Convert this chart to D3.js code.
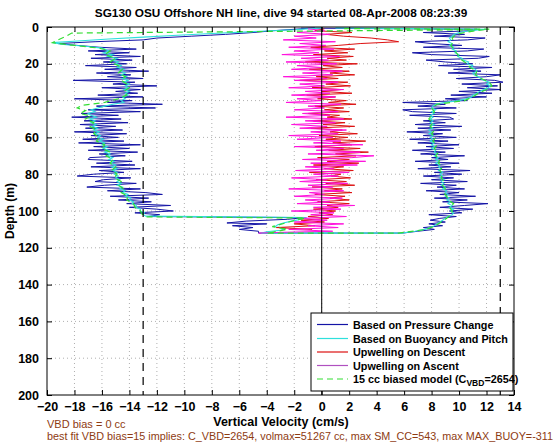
<!DOCTYPE html>
<html><head><meta charset="utf-8">
<script src="https://cdn.jsdelivr.net/npm/d3@7"></script>
<style>body{margin:0;background:#fff}svg{display:block}text{font-family:"Liberation Sans",Arial,Helvetica,sans-serif}</style>
</head><body><svg id="c" width="560" height="442"></svg>
<script>
// ---- data: [depth (m), vertical velocity (cm/s)] ----
const pressureChange = [[0.4,-0.5],[1,-1.5],[2,-3.5],[3,-5],[4,-7],[5,-9.5],[6,-12],[7,-13],[8,-16.5],[9,-19.2],[10,-17.8],[11,-16.2],[12,-13.5],[13,-17],[14,-14],[15,-16.5],[16,-13.2],[17,-16.8],[18,-13.8],[19,-15.9],[20,-14.2],[21,-17.2],[22,-13.5],[23,-15.8],[24,-12.6],[25,-16.4],[26,-13.9],[27,-15.6],[28,-13.0],[29,-18.1],[30,-13.6],[31,-15.2],[32,-12.0],[33,-16.0],[34,-13.2],[35,-15.0],[36,-13.4],[37,-16.3],[38,-13.0],[39,-18.0],[40,-13.8],[41,-15.6],[42,-11.6],[43,-16.4],[44,-12.1],[45,-17.0],[46,-13.2],[47,-17.5],[48,-14.8],[49,-18.2],[50,-14.6],[51,-17.3],[52,-14.1],[53,-17.6],[54,-15.0],[55,-17.2],[56,-14.5],[57,-18.0],[58,-14.2],[59,-16.8],[60,-14.8],[61,-17.4],[62,-14.4],[63,-17.7],[64,-13.2],[65,-16.6],[66,-14.0],[67,-17.0],[68,-13.4],[69,-16.2],[70,-14.3],[71,-16.9],[72,-17.0],[73,-13.8],[74,-16.4],[75,-13.6],[76,-16.8],[77,-13.2],[78,-16.2],[79,-14.4],[80,-16.6],[81,-17.8],[82,-13.9],[83,-15.9],[84,-16.5],[85,-13.5],[86,-15.8],[87,-17.1],[88,-13.2],[89,-15.6],[90,-12.8],[91,-11.6],[92,-15.4],[93,-12.6],[94,-14.8],[95,-12.4],[96,-14.2],[97,-11.0],[98,-14.0],[99,-12.0],[100,-10.8],[101,-13.6],[102,-11.8],[103,-12.6],[103.6,-1.2],[104.5,-2.5],[105.5,-5.5],[106.5,-6.9],[107,-4.0],[108,-6.5],[109,-5.0],[110,-6.0],[111,-4.6],[112,-4.6],
[112,5.9],[111,7.0],[110,8.2],[109,7.4],[108,8.8],[107,7.8],[106,9.0],[105,7.9],[104,8.6],[103,9.8],[102,7.8],[101,10.2],[100,9.3],[99,11.0],[98,8.6],[97,10.4],[96,12.1],[95,8.8],[94,10.6],[93,8.2],[92,11.2],[91,8.6],[90,10.0],[89,7.6],[88,10.4],[87,8.4],[86,9.8],[85,7.2],[84,10.6],[83,8.0],[82,9.6],[81,7.4],[80,10.2],[79,8.2],[78,10.8],[77,7.0],[76,9.4],[75,7.8],[74,10.0],[73,6.8],[72,9.2],[71,8.0],[70,10.4],[69,7.2],[68,9.0],[67,6.6],[66,9.6],[65,7.6],[64,10.0],[63,7.0],[62,9.2],[61,6.4],[60,9.8],[59,7.4],[58,8.8],[57,6.2],[56,9.4],[55,7.0],[54,10.2],[53,6.8],[52,9.0],[51,7.4],[50,9.6],[49,9.3],[48,6.4],[47,9.8],[46,6.6],[45,5.9],[44,9.8],[43,7.0],[42,9.0],[41,5.9],[40,10.6],[39,9.0],[38,12.0],[37,9.4],[36,12.4],[35,10.0],[34,13.0],[33,10.6],[32,12.8],[31,10.2],[30,13.2],[29,12.6],[28,9.8],[27,12.0],[26,13.0],[25,9.2],[24,11.6],[23,9.6],[22,12.4],[21,8.5],[20,11.0],[19,9.0],[18,7.6],[17,11.4],[16,12.2],[15,8.0],[14,6.6],[13,10.6],[12,11.8],[11,7.4],[10,10.2],[9,8.0],[8,6.8],[7,10.6],[6,11.9],[5,8.2],[4,10.4],[3,7.4],[2,11.0],[1.2,11.3],[0.6,-1.5]];

const buoyancyPitch = [[0.5,0],[1.5,-2],[2.5,-5],[3.5,-8],[4.5,-10.5],[5.5,-13],[6.5,-15.5],[7.5,-17.5],[8.5,-19.6],[9.5,-18.8],[10.5,-17.2],[11.5,-16],[12,-15.8],[13,-15.5],[14,-15.9],[15,-15.2],[16,-15.6],[17,-14.9],[18,-15.3],[19,-14.8],[20,-15.0],[21,-14.6],[22,-14.9],[23,-14.4],[24,-14.7],[25,-14.3],[26,-14.6],[27,-14.2],[28,-14.5],[29,-14.1],[30,-14.4],[31,-14.0],[32,-14.3],[33,-14.1],[34,-14.4],[35,-14.0],[36,-14.3],[37,-14.1],[38,-14.5],[39,-14.3],[40,-14.6],[41,-14.4],[42,-15.2],[43,-15.8],[44,-16.3],[45,-16.8],[46,-16.5],[47,-17.0],[48,-16.8],[49,-16.4],[50,-16.9],[51,-16.5],[52,-16.8],[53,-16.4],[54,-16.7],[55,-16.3],[56,-16.6],[57,-16.2],[58,-16.5],[59,-16.1],[60,-16.3],[61,-15.9],[62,-16.2],[63,-15.8],[64,-16.0],[65,-15.6],[66,-15.9],[67,-15.5],[68,-15.8],[69,-15.4],[70,-15.6],[71,-15.2],[72,-15.5],[73,-15.1],[74,-15.4],[75,-15.0],[76,-15.3],[77,-14.9],[78,-15.2],[79,-14.9],[80,-15.1],[81,-14.8],[82,-15.0],[83,-14.7],[84,-14.9],[85,-14.6],[86,-14.9],[87,-14.5],[88,-14.7],[89,-14.3],[90,-14.5],[91,-14.1],[92,-14.3],[93,-13.9],[94,-14.0],[95,-13.7],[96,-13.8],[97,-13.5],[98,-13.5],[99,-13.2],[100,-13.2],[101,-12.9],[102,-13.0],[102.8,-12.8],[103.5,-1.1],[104.5,-1.5],[105.5,-2.2],[106.5,-2.8],[107.5,-3.2],[108.5,-3.4],[109.5,-2.6],[110.5,-3.0],[111.3,-4.0],[112,-4.4],
[112,5.8],[111,6.8],[110,7.5],[109,7.9],[108,8.2],[107,8.4],[106,8.6],[105,8.8],[104,9.0],[103,9.2],[102,9.5],[101,9.6],[100,9.4],[99,9.6],[98,9.3],[97,9.5],[96,9.2],[95,9.4],[94,9.1],[93,9.3],[92,9.0],[91,9.2],[90,9.0],[89,9.1],[88,8.8],[87,9.0],[86,8.7],[85,8.9],[84,8.7],[83,8.9],[82,8.6],[81,8.8],[80,8.6],[79,8.8],[78,8.5],[77,8.7],[76,8.5],[75,8.6],[74,8.3],[73,8.5],[72,8.3],[71,8.5],[70,8.2],[69,8.4],[68,8.2],[67,8.3],[66,8.0],[65,8.2],[64,8.0],[63,8.2],[62,7.9],[61,8.1],[60,7.9],[59,8.1],[58,7.8],[57,8.0],[56,7.8],[55,8.1],[54,7.9],[53,8.2],[52,7.9],[51,8.1],[50,7.9],[49,8.1],[48,7.9],[47,8.2],[46,8.0],[45,8.3],[44,8.0],[43,8.1],[42,8.3],[41,8.9],[40,10.0],[39,10.5],[38,10.9],[37,11.0],[36,11.3],[35,11.5],[34,11.8],[33,12.1],[32,12.3],[31,12.0],[30,12.2],[29,11.8],[28,11.6],[27,11.4],[26,11.1],[25,11.0],[24,11.3],[23,11.2],[22,10.9],[21,11.0],[20,10.6],[19,10.7],[18,10.3],[17,10.2],[16,9.9],[15,10.0],[14,9.7],[13,9.8],[12,9.5],[11,9.6],[10,9.3],[9,9.5],[8,9.2],[7,9.4],[6,9.3],[5,9.5],[4,9.6],[3,10.0],[2,10.8],[1.2,12.0],[0.5,1]];

const upwellingDescent = [[1,0.2],[2,-0.5],[3,2.2],[4,0.3],[5,1.6],[6,3.6],[7,4.8],[8,5.6],[9,2.8],[10,1.2],[11,-0.8],[12,2.4],[13,0.2],[14,1.9],[15,-0.6],[16,2.3],[17,0.4],[18,1.8],[19,-1.2],[20,2.6],[21,0.1],[22,1.5],[23,-0.9],[24,2.0],[25,0.6],[26,2.4],[27,-0.4],[28,1.2],[29,-1.6],[30,1.9],[31,0.3],[32,2.1],[33,-0.7],[34,1.4],[35,0.0],[36,2.2],[37,-1.1],[38,1.0],[39,-0.3],[40,1.8],[41,0.5],[42,2.5],[43,-0.5],[44,1.6],[45,0.2],[46,2.0],[47,-1.0],[48,1.3],[49,0.4],[50,2.2],[51,-0.6],[52,1.7],[53,0.1],[54,2.4],[55,-0.8],[56,1.5],[57,0.6],[58,2.6],[59,-0.2],[60,1.9],[61,0.3],[62,3.2],[63,0.8],[64,2.2],[65,-0.5],[66,2.8],[67,0.5],[68,3.4],[69,1.0],[70,2.5],[71,-0.3],[72,2.0],[73,0.4],[74,2.7],[75,-0.6],[76,1.6],[77,0.2],[78,2.3],[79,-0.9],[80,1.4],[81,0.7],[82,2.1],[83,-0.4],[84,1.8],[85,0.3],[86,2.4],[87,-0.7],[88,1.5],[89,0.2],[90,2.2],[91,-0.5],[92,1.7],[93,0.6],[94,2.0],[95,-0.3],[96,2.0],[97,0.4],[98,1.2],[99,-0.6],[100,1.0],[101,-0.2],[102,0.8],[103,-1.0],[104,0.5],[105,-1.5],[106,0.2],[107,-2.0],[108,-0.5],[109,-3.3],[110,-0.7]];

const upwellingAscent = [[112,-4.6],[111.5,-2.5],[111,0.8],[110,-2.4],[109,1.2],[108,-1.0],[107,1.6],[106,-2.0],[105,0.4],[104,-1.5],[103,1.8],[102,-0.8],[101,0.9],[100,-2.2],[99,1.4],[98,-0.6],[97,2.4],[96,-1.8],[95,0.6],[94,-1.2],[93,1.5],[92,-2.0],[91,0.2],[90,-0.9],[89,1.6],[88,-2.4],[87,0.8],[86,-1.0],[85,1.9],[84,-1.6],[83,0.4],[82,-2.2],[81,1.2],[80,-0.6],[79,2.0],[78,-1.9],[77,0.9],[76,-1.2],[75,2.6],[74,-0.8],[73,3.2],[72,-1.4],[71,2.2],[70,3.8],[69,-1.0],[68,2.8],[67,-0.4],[66,1.6],[65,-2.0],[64,3.0],[63,-0.6],[62,1.4],[61,-1.8],[60,0.8],[59,-2.4],[58,1.2],[57,-0.8],[56,1.8],[55,-1.6],[54,0.4],[53,-2.2],[52,1.0],[51,-1.2],[50,1.6],[49,-2.6],[48,0.6],[47,-1.4],[46,1.2],[45,-2.0],[44,0.2],[43,-1.0],[42,1.4],[41,-2.6],[40,0.0],[39,-1.8],[38,1.0],[37,-2.2],[36,0.6],[35,-1.2],[34,1.6],[33,-2.4],[32,0.2],[31,-1.6],[30,1.2],[29,-2.0],[28,0.4],[27,-2.8],[26,0.8],[25,-1.4],[24,1.5],[23,-2.2],[22,0.0],[21,-1.8],[20,1.1],[19,-2.6],[18,0.5],[17,-1.5],[16,1.3],[15,-2.9],[14,-0.2],[13,-2.0],[12,0.9],[11,-2.4],[10,0.3],[9,-1.6],[8,1.0],[7,-2.8],[6,-0.4],[5,-2.0],[4,0.6],[3,-1.8],[2,0.2],[1,-1.0]];

const biasedModel = [[1.5,11],[3.3,-18.2],[5,-18.6],[7,-19.2],[8.5,-19.6],[10,-18.0],[11.5,-16.2],[13,-15.4],[15,-15.8],[17,-15.0],[19,-15.4],[21,-14.8],[23,-14.5],[25,-14.8],[27,-14.3],[29,-14.6],[31,-14.2],[33,-14.0],[35,-14.4],[37,-14.2],[39,-14.8],[41,-15.8],[42.5,-17.4],[44,-17.8],[45.5,-17.2],[47,-17.6],[48.5,-16.8],[50,-17.2],[52,-16.6],[54,-16.9],[56,-16.4],[58,-16.6],[60,-16.2],[62,-16.4],[64,-15.8],[66,-16.0],[68,-15.4],[70,-15.7],[72,-15.2],[74,-15.4],[76,-15.0],[78,-15.3],[80,-14.9],[82,-15.1],[84,-14.6],[86,-14.8],[88,-14.4],[90,-14.6],[92,-14.1],[94,-14.2],[96,-13.7],[98,-13.6],[100,-13.2],[101.5,-13.1],[103.2,-12.8],[103.8,-1.2],[106,-2.4],[108.5,-3.6],[110,-2.5],[112,-4.0],
[112,5.6],[110,7.6],[108,8.3],[106,8.7],[104,9.1],[102,9.4],[100,9.5],[98,9.3],[96,9.6],[94,9.2],[92,9.1],[90,8.9],[88,9.0],[86,8.8],[84,8.9],[82,8.7],[80,8.8],[78,8.6],[76,8.8],[74,8.5],[72,8.6],[70,8.3],[68,8.5],[66,8.2],[64,8.4],[62,8.1],[60,8.3],[58,8.0],[56,8.2],[54,7.9],[52,8.1],[50,7.8],[48,8.0],[46,8.2],[44,8.0],[42,8.4],[41,9.4],[40,10.4],[38,11.0],[36,11.4],[34,12.0],[32,12.4],[30,12.2],[28,11.6],[26,11.2],[24,11.3],[22,10.8],[20,10.6],[18,10.2],[16,10.0],[14,9.8],[12,9.6],[10,9.4],[8,9.6],[6,9.5],[4,9.8],[3,10.4],[2,11.2],[1.2,12.2],[0.9,1.5]];

const xTicks = [-20,-18,-16,-14,-12,-10,-8,-6,-4,-2,0,2,4,6,8,10,12,14];
const yTicks = [0,20,40,60,80,100,120,140,160,180,200];
const limitLines = [-13, 13];
const legendLabels = ["Based on Pressure Change","Based on Buoyancy and Pitch","Upwelling on Descent","Upwelling on Ascent","15 cc biased model (C"];
const titleText = "SG130 OSU Offshore NH line, dive 94 started 08-Apr-2008 08:23:39";
const note1 = "VBD bias = 0 cc";
const note2 = "best fit VBD bias=15 implies: C_VBD=2654, volmax=51267 cc, max SM_CC=543, max MAX_BUOY=-311";

// ---- drawing ----
const L=47,R=514,T=27,B=395;
const svg = d3.select("#c");
const x = d3.scaleLinear().domain([-20,14]).range([L,R]);
const y = d3.scaleLinear().domain([0,200]).range([T,B]);

svg.append("defs").append("clipPath").attr("id","clip").append("rect").attr("x",L).attr("y",T).attr("width",R-L).attr("height",B-T);

// grid
const grid = svg.append("g").attr("stroke","#9a9a9a").attr("stroke-width",0.8).attr("stroke-dasharray","1,3");
grid.selectAll(".gx").data(xTicks.slice(1,-1)).join("line").attr("x1",d=>x(d)).attr("x2",d=>x(d)).attr("y1",T).attr("y2",B);
grid.selectAll(".gy").data(yTicks.slice(1,-1)).join("line").attr("y1",d=>y(d)).attr("y2",d=>y(d)).attr("x1",L).attr("x2",R);

const plot = svg.append("g").attr("clip-path","url(#clip)");
const line = d3.line().x(d=>x(d[1])).y(d=>y(d[0]));
const colors = {p:"#1414a6", c:"#2ee0dc", r:"#dd1111", m:"#ff11dd", g:"#33dd33"};

plot.append("path").datum(pressureChange).attr("d",line).attr("fill","none").attr("stroke",colors.p).attr("stroke-width",1);
plot.append("path").datum(buoyancyPitch).attr("d",line).attr("fill","none").attr("stroke",colors.c).attr("stroke-width",1.1);
plot.append("path").datum(upwellingDescent).attr("d",line).attr("fill","none").attr("stroke",colors.r).attr("stroke-width",1);
plot.append("path").datum(upwellingAscent).attr("d",line).attr("fill","none").attr("stroke",colors.m).attr("stroke-width",1);
plot.append("path").datum(biasedModel).attr("d",line).attr("fill","none").attr("stroke",colors.g).attr("stroke-width",1.2).attr("stroke-dasharray","6,4");

// reference lines
plot.append("line").attr("x1",x(0)).attr("x2",x(0)).attr("y1",T).attr("y2",B).attr("stroke","#000").attr("stroke-width",1);
plot.selectAll(".lim").data(limitLines).join("line").attr("x1",d=>x(d)).attr("x2",d=>x(d)).attr("y1",T).attr("y2",B)
  .attr("stroke","#000").attr("stroke-width",1.2).attr("stroke-dasharray","8,6");

// axes (MATLAB style ticks inside)
const fmt = d3.format("");
const axB = svg.append("g").attr("transform",`translate(0,${B})`).call(d3.axisBottom(x).tickValues(xTicks).tickSizeInner(-5).tickSizeOuter(0).tickPadding(8).tickFormat(fmt));
const axT = svg.append("g").attr("transform",`translate(0,${T})`).call(d3.axisTop(x).tickValues(xTicks).tickSizeInner(-5).tickSizeOuter(0).tickFormat(""));
const axL = svg.append("g").attr("transform",`translate(${L},0)`).call(d3.axisLeft(y).tickValues(yTicks).tickSizeInner(-5).tickSizeOuter(0).tickPadding(8).tickFormat(fmt));
const axR = svg.append("g").attr("transform",`translate(${R},0)`).call(d3.axisRight(y).tickValues(yTicks).tickSizeInner(-5).tickSizeOuter(0).tickFormat(""));
[axB,axT,axL,axR].forEach(a=>{a.select(".domain").remove();a.selectAll("line").attr("stroke","#000");});
[axB,axL].forEach(a=>a.selectAll("text").attr("fill","#000").style("font-size","12.5px").style("font-weight","bold"));
axB.selectAll("text").attr("dy","0.6em");
svg.append("rect").attr("x",L).attr("y",T).attr("width",R-L).attr("height",B-T).attr("fill","none").attr("stroke","#000").attr("stroke-width",1);

// legend
const lg = svg.append("g");
lg.append("rect").attr("x",311).attr("y",313).attr("width",202).attr("height",78).attr("fill","#fff").attr("stroke","#000").attr("stroke-width",1);
const lgColors = [colors.p,colors.c,colors.r,"#b050c0",colors.g];
const lgY = [324.5,338.5,352,365.5,379];
legendLabels.forEach((t,i)=>{
  const ln = lg.append("line").attr("x1",317).attr("x2",348).attr("y1",lgY[i]).attr("y2",lgY[i]).attr("stroke",lgColors[i]).attr("stroke-width",1.2);
  if(i===4) ln.attr("stroke-dasharray","6,4");
  const tx = lg.append("text").attr("x",353).attr("y",lgY[i]+4).style("font-size","10.8px").style("font-weight","bold").text(t);
  if(i===4){
    tx.append("tspan").attr("dy",3).style("font-size","8.5px").text("VBD");
    tx.append("tspan").attr("dy",-3).text("=2654)");
  }
});

// texts
svg.append("text").attr("x",281).attr("y",17).attr("text-anchor","middle").style("font-size","11.8px").style("font-weight","bold").text(titleText);
svg.append("text").attr("transform","translate(14,211) rotate(-90)").attr("text-anchor","middle").style("font-size","12px").style("font-weight","bold").text("Depth (m)");
svg.append("text").attr("x",281).attr("y",426).attr("text-anchor","middle").style("font-size","12.5px").style("font-weight","bold").text("Vertical Velocity (cm/s)");
svg.append("text").attr("x",47).attr("y",428).attr("fill","#8e3b12").style("font-size","11px").text(note1);
svg.append("text").attr("x",47).attr("y",440).attr("fill","#8e3b12").style("font-size","10.6px")
  .attr("textLength",506).attr("lengthAdjust","spacingAndGlyphs").text(note2);
</script></body></html>
